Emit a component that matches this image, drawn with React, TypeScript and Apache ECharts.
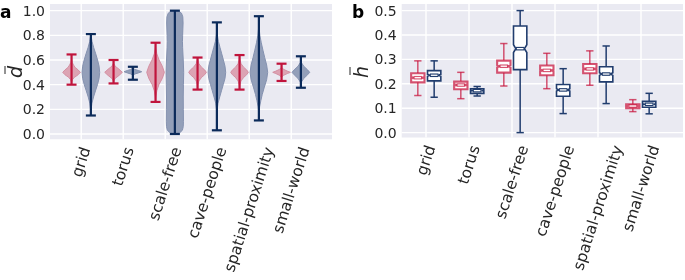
import React, { useEffect, useRef } from "react";
import * as echarts from "echarts";

// ---------- data ----------
const categories = ["grid", "torus", "scale-free", "cave-people", "spatial-proximity", "small-world"];
const yTicksA = [0, 0.2, 0.4, 0.6, 0.8, 1.0];
const yTicksB = [0, 0.1, 0.2, 0.3, 0.4, 0.5];

// panel a: range (min/max) of each violin
const redMinA = [0.40, 0.41, 0.26, 0.36, 0.36, 0.43];
const redMaxA = [0.645, 0.60, 0.74, 0.62, 0.64, 0.57];
const blueMinA = [0.15, 0.44, 0.0, 0.03, 0.11, 0.375];
const blueMaxA = [0.81, 0.545, 1.0, 0.905, 0.955, 0.63];

// panel a: violin profiles [value, relative density width]
const redProfiles: number[][][] = [
  [[0.40, 0], [0.42, 0.02], [0.44, 0.1], [0.46, 0.34], [0.48, 0.74], [0.50, 1], [0.52, 0.74], [0.54, 0.4], [0.56, 0.22], [0.58, 0.08], [0.60, 0.02], [0.645, 0]],
  [[0.41, 0], [0.43, 0.03], [0.45, 0.18], [0.475, 0.62], [0.50, 1], [0.525, 0.62], [0.55, 0.18], [0.57, 0.04], [0.60, 0]],
  [[0.26, 0], [0.30, 0.03], [0.35, 0.14], [0.40, 0.38], [0.45, 0.76], [0.50, 1], [0.55, 0.76], [0.60, 0.4], [0.65, 0.14], [0.70, 0.03], [0.74, 0]],
  [[0.36, 0], [0.40, 0.04], [0.43, 0.15], [0.46, 0.47], [0.48, 0.8], [0.50, 1], [0.52, 0.8], [0.54, 0.47], [0.57, 0.15], [0.60, 0.04], [0.62, 0]],
  [[0.36, 0], [0.40, 0.05], [0.43, 0.16], [0.46, 0.48], [0.48, 0.8], [0.50, 1], [0.52, 0.8], [0.54, 0.48], [0.57, 0.17], [0.60, 0.05], [0.64, 0]],
  [[0.43, 0], [0.46, 0.03], [0.475, 0.2], [0.49, 0.65], [0.50, 1], [0.51, 0.65], [0.525, 0.2], [0.54, 0.03], [0.57, 0]],
];
const blueProfiles: number[][][] = [
  [[0.15, 0], [0.20, 0.03], [0.25, 0.12], [0.30, 0.3], [0.35, 0.52], [0.40, 0.75], [0.45, 0.93], [0.50, 1], [0.55, 0.93], [0.60, 0.76], [0.65, 0.55], [0.70, 0.32], [0.75, 0.13], [0.80, 0.02], [0.81, 0]],
  [[0.44, 0], [0.47, 0.01], [0.48, 0.06], [0.487, 0.25], [0.495, 0.62], [0.505, 1], [0.515, 0.62], [0.523, 0.25], [0.53, 0.06], [0.538, 0.01], [0.545, 0]],
  [[0.0, 0], [0.01, 0.55], [0.03, 0.85], [0.06, 0.95], [0.10, 0.97], [0.20, 0.96], [0.30, 0.95], [0.40, 0.97], [0.50, 1], [0.60, 0.95], [0.70, 0.88], [0.75, 0.86], [0.80, 0.88], [0.90, 0.93], [0.95, 0.9], [0.98, 0.75], [0.995, 0.45], [1.0, 0]],
  [[0.03, 0], [0.15, 0.01], [0.20, 0.04], [0.25, 0.13], [0.30, 0.32], [0.35, 0.52], [0.40, 0.72], [0.45, 0.92], [0.50, 1], [0.55, 0.92], [0.60, 0.74], [0.65, 0.55], [0.70, 0.36], [0.75, 0.17], [0.80, 0.06], [0.85, 0.015], [0.905, 0]],
  [[0.11, 0], [0.18, 0.02], [0.22, 0.08], [0.27, 0.22], [0.32, 0.38], [0.38, 0.62], [0.44, 0.88], [0.50, 1], [0.56, 0.88], [0.62, 0.66], [0.68, 0.46], [0.74, 0.27], [0.80, 0.11], [0.86, 0.03], [0.92, 0.01], [0.955, 0]],
  [[0.375, 0], [0.42, 0.05], [0.45, 0.32], [0.48, 0.76], [0.50, 1], [0.52, 0.76], [0.55, 0.32], [0.58, 0.05], [0.63, 0]],
];

// panel b: box plots
const redLowB = [0.152, 0.139, 0.191, 0.180, 0.194, 0.086];
const redQ1B = [0.206, 0.178, 0.246, 0.235, 0.243, 0.100];
const redMedB = [0.225, 0.195, 0.272, 0.255, 0.261, 0.109];
const redQ3B = [0.243, 0.209, 0.295, 0.275, 0.281, 0.116];
const redHighB = [0.294, 0.247, 0.365, 0.325, 0.335, 0.135];
const blueLowB = [0.145, 0.150, 0.0, 0.078, 0.119, 0.077];
const blueQ1B = [0.212, 0.161, 0.258, 0.149, 0.208, 0.104];
const blueMedB = [0.235, 0.172, 0.344, 0.175, 0.240, 0.116];
const blueQ3B = [0.254, 0.180, 0.437, 0.197, 0.270, 0.128];
const blueHighB = [0.294, 0.189, 0.5, 0.262, 0.355, 0.161];

// ---------- layout / style ----------
const X_RANGE_A = [-0.743, 5.971];
const Y_RANGE_A = [-0.043, 1.054];
const X_RANGE_B = [-0.565, 5.977];
const Y_RANGE_B = [-0.02, 0.527];

const BG = "#eaeaf2";
const TEXT = "#262626";
const RED = "#c0143c";
const BLUE = "#0b2a5a";
const RED_FILL = "#dca3b3";
const RED_EDGE = "#d48fa2";
const BLUE_FILL = "#939fb9";
const BLUE_EDGE = "#8592b0";
const BOX_RED = "rgba(200,20,60,0.72)";
const BOX_BLUE = "#213d6e";

const FONT_FAMILY = "'DejaVu Sans', Verdana, sans-serif";
const LABEL_FONT = "15.5px " + FONT_FAMILY;
const LABEL_ANGLE = 72;
const LABEL_H = 15;
const LABEL_GAP = 6;

const V_OFFSET = 0.23;
const V_HALF = 0.21;
const B_OFFSET = 0.19;
const B_HALF = 0.155;
const CAP_B = 0.085;
const NOTCH_IN = 0.055;
const NOTCH_RATIO = 0.09;

let measureCtx: CanvasRenderingContext2D | null = null;
function textWidth(t: string, font: string): number {
  if (!measureCtx) measureCtx = document.createElement("canvas").getContext("2d");
  if (!measureCtx) return t.length * 8;
  measureCtx.font = font;
  return measureCtx.measureText(t).width;
}

function gridLineSeries(idx: number, hValues: number[], vValues: number[]) {
  const data: number[][] = [];
  hValues.forEach((v) => data.push([0, v, 0]));
  vValues.forEach((v) => data.push([v, 0, 1]));
  return {
    type: "custom",
    xAxisIndex: idx,
    yAxisIndex: idx,
    z: 1,
    silent: true,
    data,
    renderItem: (params: any, api: any) => {
      const cs = params.coordSys;
      const kind = api.value(2);
      if (kind === 0) {
        const y = api.coord([0, api.value(1)])[1];
        return { type: "line", shape: { x1: cs.x, y1: y, x2: cs.x + cs.width, y2: y }, style: { stroke: "#ffffff", lineWidth: 1.4 } };
      }
      const x = api.coord([api.value(0), 0])[0];
      return { type: "line", shape: { x1: x, y1: cs.y, x2: x, y2: cs.y + cs.height }, style: { stroke: "#ffffff", lineWidth: 1.4 } };
    },
  };
}

function labelSeries(idx: number, yMin: number) {
  return {
    type: "custom",
    xAxisIndex: idx,
    yAxisIndex: idx,
    z: 5,
    silent: true,
    data: categories.map((_, i) => [i, yMin]),
    renderItem: (params: any, api: any) => {
      const i = api.value(0);
      const name = categories[i];
      const cs = params.coordSys;
      const px = api.coord([i, yMin])[0];
      const A = (LABEL_ANGLE * Math.PI) / 180;
      const L = textWidth(name, LABEL_FONT);
      const cy = cs.y + cs.height + LABEL_GAP + (L * Math.sin(A) + LABEL_H * Math.cos(A)) / 2;
      return {
        type: "text",
        x: px,
        y: cy,
        rotation: A,
        style: { text: name, font: LABEL_FONT, fill: TEXT, align: "center", verticalAlign: "middle" },
      };
    },
  };
}

export default function App() {
  const ref = useRef<HTMLDivElement>(null);
  useEffect(() => {
    if (!ref.current) return;
    const chart = echarts.init(ref.current, undefined, { renderer: "svg" });

    const violinData: number[][] = [];
    categories.forEach((_, i) => {
      violinData.push([i, 0]);
      violinData.push([i, 1]);
    });

    const violinSeries = {
      type: "custom",
      xAxisIndex: 0,
      yAxisIndex: 0,
      z: 2,
      data: violinData,
      renderItem: (_p: any, api: any) => {
        const i = api.value(0);
        const side = api.value(1);
        const prof = side ? blueProfiles[i] : redProfiles[i];
        const c = i + (side ? V_OFFSET : -V_OFFSET);
        const pts: number[][] = [];
        prof.forEach(([v, w]) => pts.push(api.coord([c + w * V_HALF, v])));
        for (let k = prof.length - 1; k >= 0; k--) pts.push(api.coord([c - prof[k][1] * V_HALF, prof[k][0]]));
        return {
          type: "polygon",
          shape: { points: pts },
          style: { fill: side ? BLUE_FILL : RED_FILL, stroke: side ? BLUE_EDGE : RED_EDGE, lineWidth: 1, lineJoin: "round" },
        };
      },
    };

    const rangeSeries = {
      type: "custom",
      xAxisIndex: 0,
      yAxisIndex: 0,
      z: 3,
      data: violinData,
      renderItem: (_p: any, api: any) => {
        const i = api.value(0);
        const side = api.value(1);
        const lo = side ? blueMinA[i] : redMinA[i];
        const hi = side ? blueMaxA[i] : redMaxA[i];
        const c = i + (side ? V_OFFSET : -V_OFFSET);
        const p1 = api.coord([c, lo]);
        const p2 = api.coord([c, hi]);
        const col = side ? BLUE : RED;
        const st = { stroke: col, lineWidth: 2.2 };
        return {
          type: "group",
          children: [
            { type: "line", shape: { x1: p1[0], y1: p1[1], x2: p2[0], y2: p2[1] }, style: st },
            { type: "line", shape: { x1: p1[0] - 5, y1: p1[1], x2: p1[0] + 5, y2: p1[1] }, style: st },
            { type: "line", shape: { x1: p2[0] - 5, y1: p2[1], x2: p2[0] + 5, y2: p2[1] }, style: st },
          ],
        };
      },
    };

    const boxSeries = {
      type: "custom",
      xAxisIndex: 1,
      yAxisIndex: 1,
      z: 3,
      data: violinData,
      renderItem: (_p: any, api: any) => {
        const i = api.value(0);
        const side = api.value(1);
        const lo = side ? blueLowB[i] : redLowB[i];
        const q1 = side ? blueQ1B[i] : redQ1B[i];
        const md = side ? blueMedB[i] : redMedB[i];
        const q3 = side ? blueQ3B[i] : redQ3B[i];
        const hi = side ? blueHighB[i] : redHighB[i];
        const c = i + (side ? B_OFFSET : -B_OFFSET);
        const n = (q3 - q1) * NOTCH_RATIO;
        const col = side ? BOX_BLUE : BOX_RED;
        const lw = side ? 1.6 : 2.1;
        const pts = [
          api.coord([c - B_HALF, q1]),
          api.coord([c + B_HALF, q1]),
          api.coord([c + B_HALF, md - n]),
          api.coord([c + B_HALF - NOTCH_IN, md]),
          api.coord([c + B_HALF, md + n]),
          api.coord([c + B_HALF, q3]),
          api.coord([c - B_HALF, q3]),
          api.coord([c - B_HALF, md + n]),
          api.coord([c - B_HALF + NOTCH_IN, md]),
          api.coord([c - B_HALF, md - n]),
        ];
        const pLo = api.coord([c, lo]);
        const pQ1 = api.coord([c, q1]);
        const pQ3 = api.coord([c, q3]);
        const pHi = api.coord([c, hi]);
        const capL = api.coord([c - CAP_B, lo]);
        const capR = api.coord([c + CAP_B, lo]);
        const capL2 = api.coord([c - CAP_B, hi]);
        const capR2 = api.coord([c + CAP_B, hi]);
        const mL = api.coord([c - B_HALF + NOTCH_IN, md]);
        const mR = api.coord([c + B_HALF - NOTCH_IN, md]);
        const st = { stroke: col, lineWidth: 1.5 };
        return {
          type: "group",
          children: [
            { type: "line", shape: { x1: pLo[0], y1: pLo[1], x2: pQ1[0], y2: pQ1[1] }, style: st },
            { type: "line", shape: { x1: pQ3[0], y1: pQ3[1], x2: pHi[0], y2: pHi[1] }, style: st },
            { type: "line", shape: { x1: capL[0], y1: capL[1], x2: capR[0], y2: capR[1] }, style: st },
            { type: "line", shape: { x1: capL2[0], y1: capL2[1], x2: capR2[0], y2: capR2[1] }, style: st },
            { type: "polygon", shape: { points: pts }, style: { fill: "#ffffff", stroke: col, lineWidth: lw } },
            { type: "line", shape: { x1: mL[0], y1: mL[1], x2: mR[0], y2: mR[1] }, style: { stroke: col, lineWidth: 3.6 } },
            { type: "line", shape: { x1: mL[0] + 1, y1: mL[1], x2: mR[0] - 1, y2: mR[1] }, style: { stroke: "#ffffff", lineWidth: 1.3 } },
          ],
        };
      },
    };

    const yAxisCommon = {
      type: "value",
      axisLine: { show: false },
      axisTick: { show: false },
      splitLine: { show: false },
    };
    const xAxisCommon = {
      type: "value",
      axisLine: { show: false },
      axisTick: { show: false },
      axisLabel: { show: false },
      splitLine: { show: false },
    };

    chart.setOption({
      animation: false,
      grid: [
        { left: 50, top: 4, width: 282, height: 135.3, show: true, backgroundColor: BG, borderWidth: 0 },
        { left: 401.7, top: 4, width: 281.3, height: 133.5, show: true, backgroundColor: BG, borderWidth: 0 },
      ],
      xAxis: [
        { ...xAxisCommon, gridIndex: 0, min: X_RANGE_A[0], max: X_RANGE_A[1] },
        { ...xAxisCommon, gridIndex: 1, min: X_RANGE_B[0], max: X_RANGE_B[1] },
      ],
      yAxis: [
        {
          ...yAxisCommon,
          gridIndex: 0,
          min: Y_RANGE_A[0],
          max: Y_RANGE_A[1],
          axisLabel: { customValues: yTicksA, formatter: (v: number) => v.toFixed(1), margin: 5, fontSize: 14, fontFamily: FONT_FAMILY, color: TEXT },
        },
        {
          ...yAxisCommon,
          gridIndex: 1,
          min: Y_RANGE_B[0],
          max: Y_RANGE_B[1],
          axisLabel: { customValues: yTicksB, formatter: (v: number) => v.toFixed(1), margin: 5, fontSize: 14, fontFamily: FONT_FAMILY, color: TEXT },
        },
      ],
      graphic: [
        { type: "text", left: 0, top: 3, style: { text: "a", font: "bold 17px " + FONT_FAMILY, fill: "#000" } },
        { type: "text", left: 352, top: 3, style: { text: "b", font: "bold 17px " + FONT_FAMILY, fill: "#000" } },
        {
          type: "group",
          x: 15,
          y: 72,
          rotation: Math.PI / 2,
          children: [
            { type: "text", x: 0, y: 0, style: { text: "d", font: "italic 19px " + FONT_FAMILY, fill: TEXT, align: "center", verticalAlign: "middle" } },
            { type: "line", shape: { x1: -2, y1: -10, x2: 6, y2: -10 }, style: { stroke: TEXT, lineWidth: 1 } },
          ],
        },
        {
          type: "group",
          x: 361,
          y: 72,
          rotation: Math.PI / 2,
          children: [
            { type: "text", x: 0, y: 0, style: { text: "h", font: "italic 19px " + FONT_FAMILY, fill: TEXT, align: "center", verticalAlign: "middle" } },
            { type: "line", shape: { x1: -3, y1: -11, x2: 5, y2: -11 }, style: { stroke: TEXT, lineWidth: 1 } },
          ],
        },
      ],
      series: [
        gridLineSeries(0, yTicksA, categories.map((_, i) => i)),
        gridLineSeries(1, yTicksB, categories.map((_, i) => i)),
        violinSeries,
        rangeSeries,
        boxSeries,
        labelSeries(0, Y_RANGE_A[0]),
        labelSeries(1, Y_RANGE_B[0]),
      ],
    });
    return () => chart.dispose();
  }, []);
  return <div ref={ref} style={{ position: "fixed", left: 0, top: 0, width: 685, height: 280 }} />;
}
